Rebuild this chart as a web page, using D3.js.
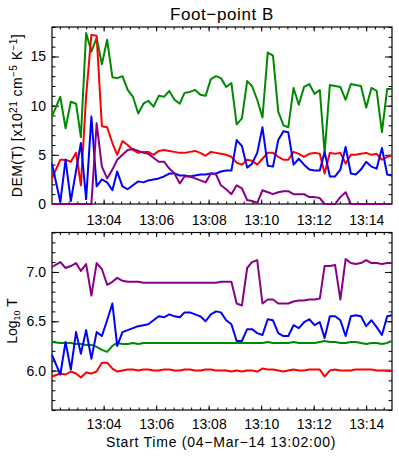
<!DOCTYPE html>
<html>
<head>
<meta charset="utf-8">
<script src="https://cdn.jsdelivr.net/npm/d3@7"></script>
<style>
  body { margin: 0; background: #fff; }
  svg { display: block; font-family: "Liberation Sans", Arial, sans-serif; }
</style>
</head>
<body>
<svg width="399" height="456"></svg>
<script>
// seconds after 13:02:00 for each frame
let secs = [2, 21, 33, 45, 57, 68, 80, 92, 104, 116, 128, 140, 151, 163, 175, 187, 199, 211, 222, 234,
  246, 258, 270, 282, 294, 305, 317, 329, 341, 353, 365, 377, 388, 400, 412, 424, 436, 448, 459, 471,
  483, 495, 507, 519, 531, 542, 554, 566, 578, 590, 602, 614, 625, 637, 649, 661, 673, 685, 696, 708,
  720, 732, 744, 756, 768, 779];

// DEM(T) [x10^21 cm^-5 K^-1]
let demGreen = [8.9, 10.9, 7.7, 10.4, 10.2, 6.8, 17.4, 15.5, 16.9, 14.2, 16.7, 12.9, 12.8, 13.0, 11.6, 10.9, 9.2, 10.2, 10.5, 9.9,
  11.0, 10.9, 11.5, 10.6, 10.2, 11.3, 11.4, 11.6, 11.1, 11.0, 12.7, 13.0, 12.8, 11.9, 12.3, 8.1, 8.7, 12.5, 12.0, 10.6,
  8.8, 15.4, 15.1, 9.4, 8.0, 7.8, 11.8, 10.1, 11.9, 12.2, 11.2, 11.6, 5.2, 12.1, 12.0, 11.9, 10.6, 12.2, 12.1, 12.0,
  9.8, 11.8, 11.5, 7.3, 11.7, 11.7];
let demRed = [2.6, 4.5, 4.5, 4.3, 5.2, 1.9, 11.0, 17.2, 17.1, 7.9, 7.8, 6.2, 5.0, 6.4, 6.0, 5.5, 5.2, 5.3, 5.3, 5.0,
  5.4, 5.5, 5.4, 5.3, 5.2, 5.2, 5.3, 5.4, 5.2, 4.9, 5.3, 5.2, 5.1, 5.0, 4.8, 4.2, 4.0, 4.5, 4.4, 4.0,
  4.6, 5.2, 5.2, 4.8, 4.5, 4.5, 5.3, 5.1, 4.8, 5.1, 5.2, 5.1, 3.1, 5.2, 5.1, 5.2, 4.1, 5.0, 5.0, 5.1,
  5.2, 5.0, 5.1, 4.5, 4.8, 4.9];
let demBlue = [4.1, 0.2, 4.5, 0.3, 3.4, 6.2, 0.5, 8.9, 1.8, 2.5, 2.2, 1.4, 3.3, 1.8, 1.5, 1.9, 2.3, 2.2, 2.4, 2.5,
  2.6, 2.8, 3.1, 3.1, 2.9, 2.9, 2.8, 2.9, 3.0, 3.0, 3.1, 3.1, 3.3, 3.4, 3.4, 6.5, 5.9, 3.7, 4.1, 5.2,
  7.8, 3.9, 3.8, 6.5, 7.4, 7.3, 4.0, 4.6, 4.0, 3.5, 3.4, 3.4, 5.3, 2.8, 2.8, 3.5, 5.8, 3.1, 3.0, 3.5,
  4.3, 3.8, 3.6, 5.7, 3.0, 2.9];
let demPurple = [0, 0, 0, 0, 0, 0, 0, 0, 8.2, 3.8, 2.6, 3.5, 4.5, 5.0, 5.5, 5.6, 5.4, 5.2, 5.1, 4.7,
  4.3, 4.3, 3.6, 3.1, 2.1, 2.8, 2.8, 2.6, 2.4, 2.2, 3.1, 3.0, 1.9, 1.5, 1.0, 1.9, 1.6, 0.4, 0.3, 0.1,
  1.4, 1.2, 1.0, 1.2, 1.3, 1.3, 1.0, 1.0, 1.0, 0.7, 0.7, 0.6, 0, 0, 0, 0.7, 1.2, 0, 0, 0,
  0, 0, 0, 0, 0, 0];

// Log10 T
let logRed = [5.94, 5.97, 5.96, 5.99, 5.97, 5.93, 5.98, 5.97, 5.99, 6.08, 6.08, 6.02, 5.99, 6.00, 6.01, 6.01, 6.00, 6.01, 6.01, 6.00,
  6.00, 6.01, 6.01, 6.00, 6.00, 6.01, 6.01, 6.00, 6.00, 6.01, 6.01, 6.00, 6.00, 6.00, 5.99, 6.00, 5.99, 6.00, 6.00, 5.99,
  6.02, 6.01, 6.01, 6.00, 5.99, 6.00, 6.01, 6.00, 6.00, 6.01, 6.01, 6.01, 5.94, 6.00, 6.01, 6.00, 6.00, 6.00, 6.01, 6.01,
  6.01, 6.01, 6.00, 6.00, 6.00, 6.00];
let logGreen = [6.29, 6.28, 6.28, 6.28, 6.27, 6.27, 6.26, 6.26, 6.24, 6.21, 6.19, 6.25, 6.28, 6.27, 6.27, 6.28, 6.27, 6.28, 6.28, 6.28,
  6.28, 6.28, 6.28, 6.28, 6.28, 6.28, 6.28, 6.28, 6.28, 6.28, 6.28, 6.28, 6.28, 6.28, 6.28, 6.28, 6.28, 6.28, 6.28, 6.28,
  6.28, 6.29, 6.28, 6.28, 6.28, 6.28, 6.29, 6.28, 6.28, 6.28, 6.28, 6.29, 6.30, 6.29, 6.29, 6.28, 6.28, 6.29, 6.29, 6.28,
  6.27, 6.28, 6.28, 6.27, 6.28, 6.30];
let logBlue = [6.16, 5.96, 6.29, 6.01, 6.39, 6.17, 6.41, 6.12, 6.39, 6.35, 6.51, 6.68, 6.25, 6.39, 6.41, 6.43, 6.45, 6.46, 6.47, 6.51,
  6.55, 6.54, 6.57, 6.55, 6.54, 6.59, 6.59, 6.57, 6.55, 6.50, 6.57, 6.60, 6.59, 6.51, 6.47, 6.30, 6.30, 6.42, 6.42, 6.38,
  6.36, 6.52, 6.51, 6.38, 6.35, 6.35, 6.46, 6.43, 6.49, 6.52, 6.46, 6.49, 6.33, 6.55, 6.55, 6.51, 6.35, 6.55, 6.56, 6.55,
  6.45, 6.51, 6.44, 6.36, 6.55, 6.56];
let logPurple = [7.05, 7.10, 7.04, 7.06, 7.09, 7.01, 7.08, 6.76, 7.09, 7.03, 6.87, 6.90, 6.94, 6.91, 6.90, 6.90, 6.90, 6.89, 6.89, 6.89,
  6.89, 6.89, 6.89, 6.89, 6.89, 6.89, 6.89, 6.89, 6.89, 6.89, 6.89, 6.89, 6.90, 6.90, 6.90, 6.68, 6.66, 7.04, 7.10, 7.12,
  6.68, 6.72, 6.72, 6.68, 6.68, 6.68, 6.70, 6.71, 6.71, 6.72, 6.72, 6.73, 7.06, 7.06, 7.07, 6.72, 7.13, 7.09, 7.08, 7.09,
  7.12, 7.09, 7.09, 7.08, 7.09, 7.09];

let timeTicks = ["13:04", "13:06", "13:08", "13:10", "13:12", "13:14"];
let demTicks = [0, 5, 10, 15];
let logTicks = [6.0, 6.5, 7.0];

let svg = d3.select("svg");
let t0 = Date.UTC(2014, 2, 4, 13, 2, 0);
let toDate = (s) => new Date(t0 + s * 1000);
let times = secs.map(toDate);
let left = 52;
let right = 392;

let xScale = d3.scaleUtc().domain([toDate(2), toDate(779)]).range([left, right]);
let parseHM = d3.utcParse("%Y-%m-%d %H:%M");
let majorDates = timeTicks.map((s) => parseHM("2014-03-04 " + s));
let minorDates = d3.utcSecond.every(20).range(toDate(3), toDate(779));

let colors = { red: "#ff0000", green: "#008800", blue: "#0000ff", purple: "#880088" };

let drawPanel = (top, bottom, domain, yTicks, yMinor, fmt, xPad, series) => {
  let yScale = d3.scaleLinear().domain(domain).range([bottom, top]);
  let g = svg.append("g");

  let style = (sel) => {
    sel.attr("font-size", 14).attr("font-family", null);
    sel.select(".domain").remove();
    sel.selectAll("line").attr("stroke", "#000").attr("stroke-width", 1);
    sel.selectAll("text").attr("fill", "#000");
  };

  g.append("g").attr("transform", `translate(0,${bottom})`)
    .call(d3.axisBottom(xScale).tickValues(minorDates).tickSize(-2.5).tickFormat("")).call(style);
  g.append("g").attr("transform", `translate(0,${bottom})`)
    .call(d3.axisBottom(xScale).tickValues(majorDates).tickSize(-4.5).tickPadding(xPad)
      .tickFormat(d3.utcFormat("%H:%M"))).call(style);
  g.append("g").attr("transform", `translate(0,${top})`)
    .call(d3.axisTop(xScale).tickValues(minorDates).tickSize(-2.5).tickFormat("")).call(style);
  g.append("g").attr("transform", `translate(0,${top})`)
    .call(d3.axisTop(xScale).tickValues(majorDates).tickSize(-4.5).tickFormat("")).call(style);

  g.append("g").attr("transform", `translate(${left},0)`)
    .call(d3.axisLeft(yScale).tickValues(yMinor).tickSize(-3.5).tickFormat("")).call(style);
  g.append("g").attr("transform", `translate(${left},0)`)
    .call(d3.axisLeft(yScale).tickValues(yTicks).tickSize(-7).tickPadding(6).tickFormat(fmt)).call(style);
  g.append("g").attr("transform", `translate(${right},0)`)
    .call(d3.axisRight(yScale).tickValues(yMinor).tickSize(-3.5).tickFormat("")).call(style);
  g.append("g").attr("transform", `translate(${right},0)`)
    .call(d3.axisRight(yScale).tickValues(yTicks).tickSize(-7).tickFormat("")).call(style);

  g.append("rect")
    .attr("x", left).attr("y", top)
    .attr("width", right - left).attr("height", bottom - top)
    .attr("fill", "none").attr("stroke", "#000").attr("stroke-width", 1.2);

  let line = d3.line().x((d, i) => xScale(times[i])).y((d) => yScale(d));
  series.forEach((s) => {
    g.append("path")
      .attr("d", line(s.values))
      .attr("fill", "none")
      .attr("stroke", s.color)
      .attr("stroke-width", 2)
      .attr("stroke-linejoin", "round");
  });
};

drawPanel(27, 204, [0, 18], demTicks, d3.range(0, 19, 1), d3.format("d"), 11, [
  { values: demGreen, color: colors.green },
  { values: demRed, color: colors.red },
  { values: demBlue, color: colors.blue },
  { values: demPurple, color: colors.purple }
]);

drawPanel(232.5, 410, [5.6, 7.4], logTicks, d3.range(56, 75, 1).map((v) => v / 10), d3.format(".1f"), 9.5, [
  { values: logRed, color: colors.red },
  { values: logGreen, color: colors.green },
  { values: logBlue, color: colors.blue },
  { values: logPurple, color: colors.purple }
]);

// title
svg.append("text")
  .attr("x", 222).attr("y", 20)
  .attr("text-anchor", "middle")
  .attr("font-size", 17)
  .attr("letter-spacing", 0.6)
  .text("Foot\u2212point B");

// x axis title
svg.append("text")
  .attr("x", 221).attr("y", 447)
  .attr("text-anchor", "middle")
  .attr("font-size", 14)
  .attr("letter-spacing", 0.75)
  .text("Start Time (04\u2212Mar\u221214 13:02:00)");

// y axis titles
let demLabel = svg.append("text")
  .attr("transform", "translate(22,115.5) rotate(-90)")
  .attr("text-anchor", "middle")
  .attr("font-size", 14)
  .attr("letter-spacing", 0.45);
demLabel.append("tspan").text("DEM(T) [x10");
demLabel.append("tspan").attr("dy", -5).attr("font-size", 10).text("21");
demLabel.append("tspan").attr("dy", 5).text(" cm");
demLabel.append("tspan").attr("dy", -5).attr("font-size", 10).text("\u22125");
demLabel.append("tspan").attr("dy", 5).text(" K");
demLabel.append("tspan").attr("dy", -5).attr("font-size", 10).text("\u22121");
demLabel.append("tspan").attr("dy", 5).text("]");

let logLabel = svg.append("text")
  .attr("transform", "translate(17,321) rotate(-90)")
  .attr("text-anchor", "middle")
  .attr("font-size", 14);
logLabel.append("tspan").text("Log");
logLabel.append("tspan").attr("dy", 3).attr("font-size", 9).text("10");
logLabel.append("tspan").attr("dy", -3).text(" T");
</script>
</body>
</html>
